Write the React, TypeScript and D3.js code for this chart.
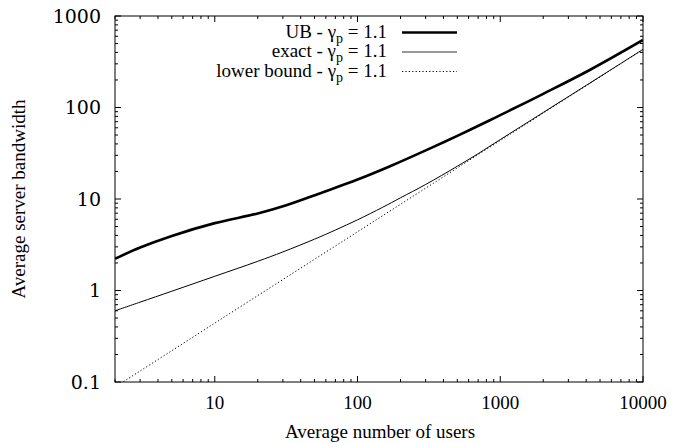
import React from "react";
import * as d3 from "d3";

const ubX = [2, 3, 5, 10, 20, 31.7, 56.7, 100, 169, 320, 500, 845, 1000, 2000, 4236, 10000];
const ubY = [2.22, 2.95, 3.95, 5.45, 6.95, 8.55, 11.8, 16.3, 22.8, 35.5, 49, 72.5, 82.5, 141, 257, 547];

const exX = [2, 3, 5, 10, 20, 30, 50, 70, 100, 150, 200, 300, 500, 700, 1000, 2000, 5000, 10000];
const exY = [0.6, 0.746, 0.982, 1.43, 2.085, 2.64, 3.64, 4.58, 5.92, 8.12, 10.3, 14.4, 22.8, 31.3, 44.6, 88.2, 217.5, 432];

const lbX = [2, 10, 100, 1000, 10000];
const lbY = [0.088, 0.44, 4.38, 43.6, 430];

const xTicks = [10, 100, 1000, 10000];
const yTicks = [0.1, 1, 10, 100, 1000];

const legendLabels = ["UB", "exact", "lower bound"];
const gammaValue = "1.1";

const W = 674;
const H = 443;
const L = 115, R = 643, T = 16, B = 382;

export default function App() {
  const x = d3.scaleLog().domain([2, 10000]).range([L, R]);
  const y = d3.scaleLog().domain([0.1, 1000]).range([B, T]);

  const line = d3
    .line<[number, number]>()
    .x((d) => x(d[0]))
    .y((d) => y(d[1]))
    .curve(d3.curveCatmullRom.alpha(0.5));

  const ub = line(ubX.map((v, i) => [v, ubY[i]]))!;
  const ex = line(exX.map((v, i) => [v, exY[i]]))!;
  const lb = line(lbX.map((v, i) => [v, lbY[i]]))!;

  const xMinor: number[] = [];
  for (let e = 0; e <= 4; e++) {
    for (let m = 1; m <= 9; m++) {
      const v = m * Math.pow(10, e);
      if (v >= 2 && v <= 10000 && !xTicks.includes(v)) xMinor.push(v);
    }
  }
  const yMinor: number[] = [];
  for (let e = -1; e <= 2; e++) {
    for (let m = 2; m <= 9; m++) {
      yMinor.push(m * Math.pow(10, e));
    }
  }

  const maj = 6;
  const min = 3;

  const styles = [
    { w: 2.6, dash: undefined as string | undefined, color: "#000" },
    { w: 1, dash: undefined as string | undefined, color: "#333" },
    { w: 1, dash: "1.2,2.2", color: "#000" },
  ];

  return (
    <svg width={W} height={H} style={{ position: "absolute", left: 0, top: 0, background: "#fff" }}>
      <defs>
        <clipPath id="plotclip">
          <rect x={L} y={T} width={R - L} height={B - T} />
        </clipPath>
      </defs>
      <rect x={0} y={0} width={W} height={H} fill="#fff" />

      <g stroke="#000" strokeWidth={1}>
        {xTicks.map((v) => (
          <g key={"xt" + v}>
            <line x1={x(v)} x2={x(v)} y1={B} y2={B - maj} />
            <line x1={x(v)} x2={x(v)} y1={T} y2={T + maj} />
          </g>
        ))}
        {xMinor.map((v) => (
          <g key={"xm" + v}>
            <line x1={x(v)} x2={x(v)} y1={B} y2={B - min} />
            <line x1={x(v)} x2={x(v)} y1={T} y2={T + min} />
          </g>
        ))}
        {yTicks.map((v) => (
          <g key={"yt" + v}>
            <line x1={L} x2={L + maj} y1={y(v)} y2={y(v)} />
            <line x1={R} x2={R - maj} y1={y(v)} y2={y(v)} />
          </g>
        ))}
        {yMinor.map((v) => (
          <g key={"ym" + v}>
            <line x1={L} x2={L + min} y1={y(v)} y2={y(v)} />
            <line x1={R} x2={R - min} y1={y(v)} y2={y(v)} />
          </g>
        ))}
      </g>

      <g fontSize={19} fill="#000" fontFamily="Liberation Serif">
        {xTicks.map((v) => (
          <text key={"xl" + v} x={x(v)} y={409} textAnchor="middle">
            {String(v)}
          </text>
        ))}
      </g>
      <g fontSize={19} fill="#000" fontFamily="DejaVu Serif">
        {yTicks.map((v) => (
          <text key={"yl" + v} x={101} y={y(v)} dy="0.35em" textAnchor="end">
            {String(v)}
          </text>
        ))}
      </g>

      <g clipPath="url(#plotclip)" fill="none">
        <path d={ub} stroke="#000" strokeWidth={styles[0].w} />
        <path d={ex} stroke="#000" strokeWidth={styles[1].w} />
        <path d={lb} stroke="#000" strokeWidth={styles[2].w} strokeDasharray={styles[2].dash} />
      </g>

      <rect x={L} y={T} width={R - L} height={B - T} fill="none" stroke="#000" strokeWidth={1} />

      <g fontSize={19} fill="#000" fontFamily="serif">
        {legendLabels.map((lab, i) => {
          const ly = 32.5 + i * 19.5;
          return (
            <g key={lab}>
              <text x={387} y={ly + 5} textAnchor="end">
                {lab + " - γ"}
                <tspan fontSize={14} dy={5}>p</tspan>
                <tspan dy={-5}>{" = " + gammaValue}</tspan>
              </text>
              <line
                x1={402}
                x2={457}
                y1={ly}
                y2={ly}
                stroke={styles[i].color}
                strokeWidth={styles[i].w}
                strokeDasharray={styles[i].dash}
              />
            </g>
          );
        })}
      </g>

      <text x={380} y={438} textAnchor="middle" fontSize={19} fontFamily="Times New Roman">
        Average number of users
      </text>
      <text
        transform={`translate(25, ${(T + B) / 2}) rotate(-90)`}
        textAnchor="middle"
        fontSize={19}
        fontFamily="Liberation Serif, serif"
      >
        Average server bandwidth
      </text>
    </svg>
  );
}
